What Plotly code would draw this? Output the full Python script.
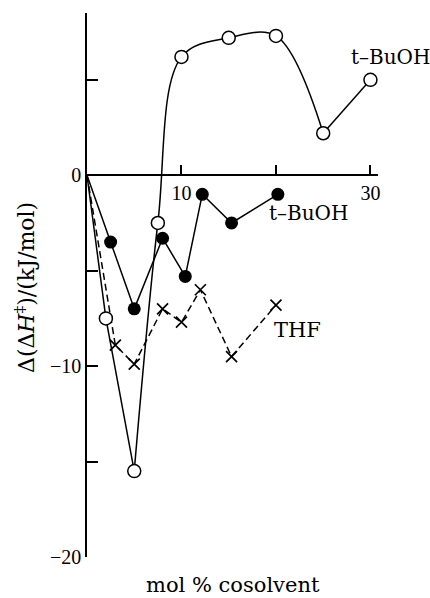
import plotly.graph_objects as go

# open circles: t-BuOH (upper curve)
open_x = [0, 2, 5, 7.5, 10, 15, 20, 25, 30]
open_y = [0, -7.5, -15.5, -2.5, 6.2, 7.2, 7.3, 2.2, 5.0]

# filled circles: t-BuOH (lower)
fill_x = [0, 2.5, 5, 8, 10.4, 12.2, 15.3, 20.2]
fill_y = [0, -3.5, -7.0, -3.3, -5.3, -1.0, -2.5, -1.0]

# crosses: THF
thf_x = [0, 3, 5, 8, 10, 12, 15.3, 20]
thf_y = [0, -8.9, -9.9, -7.0, -7.7, -6.0, -9.5, -6.8]

x_tickvals = [10, 30]
x_ticktext = ["10", "30"]
y_tickvals = [-20, -10, 0]
y_ticktext = ["\u221220", "\u221210", "0"]

LW = 1.5
fig = go.Figure()

# THF dashed
fig.add_trace(go.Scatter(x=thf_x, y=thf_y, mode="lines",
                         line=dict(color="black", width=LW, dash="7px,4px"),
                         showlegend=False))
fig.add_trace(go.Scatter(x=thf_x[1:], y=thf_y[1:], mode="markers",
                         marker=dict(symbol="x-thin", size=11, line=dict(color="black", width=1.7)),
                         cliponaxis=False, showlegend=False))

# filled circles
fig.add_trace(go.Scatter(x=fill_x, y=fill_y, mode="lines",
                         line=dict(color="black", width=LW), showlegend=False))
fig.add_trace(go.Scatter(x=fill_x[1:], y=fill_y[1:], mode="markers",
                         marker=dict(symbol="circle", size=13, color="black"),
                         cliponaxis=False, showlegend=False))

# open circles lines: linear start, spline middle, linear end
fig.add_trace(go.Scatter(x=open_x[:3], y=open_y[:3], mode="lines",
                         line=dict(color="black", width=LW), showlegend=False))
fig.add_trace(go.Scatter(x=open_x[2:8], y=open_y[2:8], mode="lines",
                         line=dict(color="black", width=LW, shape="spline", smoothing=1.0),
                         showlegend=False))
fig.add_trace(go.Scatter(x=open_x[7:], y=open_y[7:], mode="lines",
                         line=dict(color="black", width=LW), showlegend=False))
fig.add_trace(go.Scatter(x=open_x[1:], y=open_y[1:], mode="markers",
                         marker=dict(symbol="circle", size=13, color="white",
                                     line=dict(color="black", width=1.5)),
                         cliponaxis=False, showlegend=False))

tickfont = dict(family="Liberation Serif", size=20, color="black")
fig.update_layout(
    width=430, height=598,
    margin=dict(l=87, r=52, t=13, b=41),
    plot_bgcolor="white", paper_bgcolor="white",
    xaxis=dict(range=[0, 30.8], showgrid=False, zeroline=False,
               showline=True, linecolor="black", linewidth=1.5,
               anchor="free", position=20 / 28.5,
               ticks="inside", ticklen=9, tickwidth=1.5, tickcolor="black",
               tickvals=x_tickvals, ticktext=x_ticktext, tickfont=tickfont,
               minor=dict(tick0=0, dtick=10, ticks="inside", ticklen=9,
                          tickwidth=1.5, tickcolor="black", showgrid=False)),
    yaxis=dict(range=[-20, 8.5], showgrid=False, zeroline=False,
               showline=True, linecolor="black", linewidth=1.5,
               ticks="inside", ticklen=11, tickwidth=1.5, tickcolor="black",
               tickvals=y_tickvals, ticktext=y_ticktext, tickfont=tickfont,
               minor=dict(tick0=0, dtick=5, ticks="inside", ticklen=11,
                          tickwidth=1.5, tickcolor="black", showgrid=False)),
)

afont = dict(family="DejaVu Serif", size=20, color="black")
# paper coords for label beyond the x range
fig.add_annotation(xref="paper", yref="y", x=(390 - 87) / 291, y=6.17,
                   xanchor="center", yanchor="middle",
                   text="t\u2013BuOH", showarrow=False, font=afont)
fig.add_annotation(x=23.4, y=-2.0, text="t\u2013BuOH", showarrow=False, font=afont)
fig.add_annotation(x=22.3, y=-8.1, text="THF", showarrow=False,
                   font=dict(family="DejaVu Serif", size=21, color="black"))
fig.add_annotation(xref="paper", yref="paper", x=0.5, y=-0.052,
                   xanchor="center", yanchor="middle",
                   text="mol % cosolvent", showarrow=False,
                   font=dict(family="DejaVu Serif", size=21, color="black"))
fig.add_annotation(xref="paper", yref="paper", x=-0.213, y=0.4945, textangle=-90,
                   xanchor="center", yanchor="middle",
                   text="\u0394(\u0394<i>H</i><sup>\u2021</sup>)/(kJ/mol)",
                   showarrow=False, font=dict(family="DejaVu Serif", size=22, color="black"))

fig.write_html("out.html", config={"displayModeBar": False},
               post_script="document.body.style.margin='0px';")
